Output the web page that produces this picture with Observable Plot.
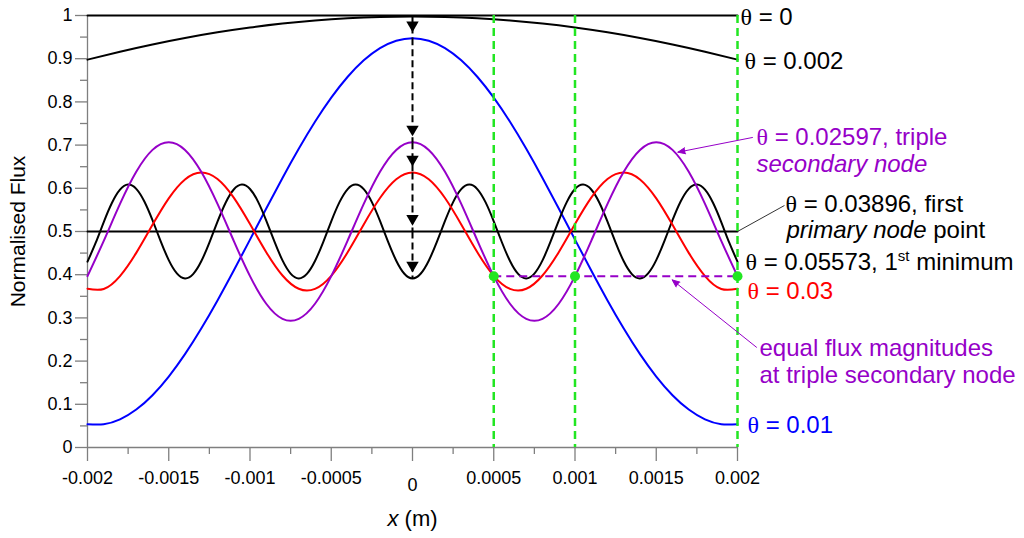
<!DOCTYPE html>
<html>
<head>
<meta charset="utf-8">
<script src="https://cdn.jsdelivr.net/npm/d3@7"></script>
<script src="https://cdn.jsdelivr.net/npm/@observablehq/plot@0.6"></script>
<style>
html, body { margin: 0; padding: 0; background: #fff; }
#chart g[aria-label$="tick label"] text { font-size: 18px !important; }
</style>
</head>
<body>
<div id="chart"></div>
<script>
// ---------- x grids (m) ----------
const xCoarse = [-0.002, -0.0018, -0.0016, -0.0014, -0.0012, -0.001, -0.0008, -0.0006, -0.0004, -0.0002, 0,
  0.0002, 0.0004, 0.0006, 0.0008, 0.001, 0.0012, 0.0014, 0.0016, 0.0018, 0.002];
const xMid = [-0.002, -0.0019, -0.0018, -0.0017, -0.0016, -0.0015, -0.0014, -0.0013, -0.0012, -0.0011,
  -0.001, -0.0009, -0.0008, -0.0007, -0.0006, -0.0005, -0.0004, -0.0003, -0.0002, -0.0001, 0,
  0.0001, 0.0002, 0.0003, 0.0004, 0.0005, 0.0006, 0.0007, 0.0008, 0.0009, 0.001,
  0.0011, 0.0012, 0.0013, 0.0014, 0.0015, 0.0016, 0.0017, 0.0018, 0.0019, 0.002];
const xFine = [-0.002, -0.00195, -0.0019, -0.00185, -0.0018, -0.00175, -0.0017, -0.00165, -0.0016, -0.00155,
  -0.0015, -0.00145, -0.0014, -0.00135, -0.0013, -0.00125, -0.0012, -0.00115, -0.0011, -0.00105,
  -0.001, -0.00095, -0.0009, -0.00085, -0.0008, -0.00075, -0.0007, -0.00065, -0.0006, -0.00055,
  -0.0005, -0.00045, -0.0004, -0.00035, -0.0003, -0.00025, -0.0002, -0.00015, -0.0001, -0.00005, 0,
  0.00005, 0.0001, 0.00015, 0.0002, 0.00025, 0.0003, 0.00035, 0.0004, 0.00045, 0.0005,
  0.00055, 0.0006, 0.00065, 0.0007, 0.00075, 0.0008, 0.00085, 0.0009, 0.00095, 0.001,
  0.00105, 0.0011, 0.00115, 0.0012, 0.00125, 0.0013, 0.00135, 0.0014, 0.00145, 0.0015,
  0.00155, 0.0016, 0.00165, 0.0017, 0.00175, 0.0018, 0.00185, 0.0019, 0.00195, 0.002];
const xEnds = [-0.002, 0.002];

// ---------- normalised flux series ----------
const flux0 = [1, 1];                       // θ = 0
const flux003896 = [0.5, 0.5];              // θ = 0.03896
const flux0002 = [0.8978, 0.9162, 0.9330, 0.9479, 0.9610, 0.9721, 0.9813, 0.9885, 0.9937, 0.9968, 0.9978,
  0.9968, 0.9937, 0.9885, 0.9813, 0.9721, 0.9610, 0.9479, 0.9330, 0.9162, 0.8978];
const flux001 = [0.0540, 0.0538, 0.0651, 0.0878, 0.1211, 0.1643, 0.2161, 0.2754, 0.3405, 0.4097,
  0.4812, 0.5533, 0.6240, 0.6914, 0.7539, 0.8098, 0.8576, 0.8962, 0.9245, 0.9417, 0.9476,
  0.9417, 0.9245, 0.8962, 0.8576, 0.8098, 0.7539, 0.6914, 0.6240, 0.5533, 0.4812,
  0.4097, 0.3405, 0.2754, 0.2161, 0.1643, 0.1211, 0.0878, 0.0651, 0.0538, 0.0540];
const flux002597 = [0.3966, 0.4784, 0.5639, 0.6383, 0.6889, 0.7067, 0.6889, 0.6383, 0.5639, 0.4784,
  0.3966, 0.3327, 0.2978, 0.2978, 0.3327, 0.3966, 0.4784, 0.5639, 0.6383, 0.6889, 0.7067,
  0.6889, 0.6383, 0.5639, 0.4784, 0.3966, 0.3327, 0.2978, 0.2978, 0.3327, 0.3966,
  0.4784, 0.5639, 0.6383, 0.6889, 0.7067, 0.6889, 0.6383, 0.5639, 0.4784, 0.3966];
const flux003 = [0.3676, 0.3670, 0.3969, 0.4505, 0.5154, 0.5768, 0.6206, 0.6367, 0.6214, 0.5783,
  0.5171, 0.4521, 0.3981, 0.3674, 0.3672, 0.3975, 0.4513, 0.5163, 0.5775, 0.6210, 0.6367,
  0.6210, 0.5775, 0.5163, 0.4513, 0.3975, 0.3672, 0.3674, 0.3981, 0.4521, 0.5171,
  0.5783, 0.6214, 0.6367, 0.6206, 0.5768, 0.5154, 0.4505, 0.3969, 0.3670, 0.3676];
const flux005573 = [0.4303, 0.4734, 0.5218, 0.5659, 0.5968, 0.6086, 0.5988, 0.5694, 0.5262, 0.4778,
  0.4338, 0.4030, 0.3914, 0.4014, 0.4310, 0.4743, 0.5227, 0.5666, 0.5972, 0.6086,
  0.5984, 0.5687, 0.5253, 0.4769, 0.4331, 0.4026, 0.3914, 0.4018, 0.4317, 0.4751,
  0.5235, 0.5673, 0.5977, 0.6086, 0.5980, 0.5680, 0.5244, 0.4760, 0.4324, 0.4022, 0.3914,
  0.4022, 0.4324, 0.4760, 0.5244, 0.5680, 0.5980, 0.6086, 0.5977, 0.5673, 0.5235,
  0.4751, 0.4317, 0.4018, 0.3914, 0.4026, 0.4331, 0.4769, 0.5253, 0.5687, 0.5984,
  0.6086, 0.5972, 0.5666, 0.5227, 0.4743, 0.4310, 0.4014, 0.3914, 0.4030, 0.4338,
  0.4778, 0.5262, 0.5694, 0.5988, 0.6086, 0.5968, 0.5659, 0.5218, 0.4734, 0.4303];

// triple secondary node points
const nodeX = [0.0005, 0.001, 0.002];
const nodeFlux = 0.3966;

// central peak values stepped by the dashed arrows at x = 0
const arrowFrom = [1, 0.9476, 0.7067, 0.6367, 0.5];
const arrowTo = [0.9476, 0.7067, 0.6367, 0.5, 0.3914];

// axis ticks
const xTicks = [-0.002, -0.0015, -0.001, -0.0005, 0, 0.0005, 0.001, 0.0015, 0.002];
const xMinorTicks = [-0.00175, -0.00125, -0.00075, -0.00025, 0.00025, 0.00075, 0.00125, 0.00175];
const yTicks = [0, 0.1, 0.2, 0.3, 0.4, 0.5, 0.6, 0.7, 0.8, 0.9, 1];
const yMinorTicks = [0.05, 0.15, 0.25, 0.35, 0.45, 0.55, 0.65, 0.75, 0.85, 0.95];

// ---------- styling ----------
const PURPLE = "#9600c8";
const GREEN = "#22e622";
const AXIS = "#7f7f7f";

// right-hand labels (y in data units, dx in px from x = 0.002)
const labels = [
  {text: "θ = 0", y: 0.995, dx: 3, color: "black"},
  {text: "θ = 0.002", y: 0.8935, dx: 7, color: "black"},
  {text: "θ = 0.02597, triple", y: 0.718, dx: 19, color: PURPLE},
  {text: "secondary node", y: 0.656, dx: 19, color: PURPLE},
  {text: "θ = 0.03896, first", y: 0.564, dx: 48, color: "black"},
  {text: "primary node point", y: 0.502, dx: 49, color: "black"},
  {text: "θ = 0.05573, 1st minimum", y: 0.429, dx: 8, color: "black"},
  {text: "θ = 0.03", y: 0.3604, dx: 10, color: "red"},
  {text: "equal flux magnitudes", y: 0.2296, dx: 22, color: PURPLE},
  {text: "at triple secondary node", y: 0.168, dx: 22, color: PURPLE},
  {text: "θ = 0.01", y: 0.0516, dx: 10, color: "blue"}
];
const purpleLeaders = [
  {x1: 0.002092, y1: 0.7176, x2: 0.001633, y2: 0.6836},
  {x1: 0.002117, y1: 0.232, x2: 0.001598, y2: 0.388}
];
const blackLeader = [{x1: 0.002, y1: 0.5, x2: 0.002289, y2: 0.5602}];

const curve = (xs, ys, stroke) =>
  Plot.line(ys, {x: (d, i) => xs[i], y: d => d, stroke, strokeWidth: 2, curve: "natural"});

const chart = Plot.plot({
  width: 1024,
  height: 538,
  marginLeft: 87,
  marginRight: 287,
  marginTop: 15,
  marginBottom: 91,
  x: {domain: [-0.002, 0.002]},
  y: {domain: [0, 1]},
  style: {fontFamily: "'Liberation Sans', Arial, sans-serif", fontSize: "18px", background: "white", overflow: "visible"},
  marks: [
    Plot.axisX(xMinorTicks, {tickSize: 7, tickFormat: () => "", stroke: AXIS, strokeWidth: 1.3, label: null}),
    Plot.axisX(xTicks, {tickSize: 14, tickPadding: 10, tickFormat: d => d === 0 ? "" : String(d), stroke: AXIS, strokeWidth: 1.3, label: null, fontSize: 18}),
    Plot.axisY(yMinorTicks, {tickSize: 7, tickFormat: () => "", stroke: AXIS, strokeWidth: 1.3, label: null}),
    Plot.axisY(yTicks, {tickSize: 12, tickPadding: 3, tickFormat: d => String(d), stroke: AXIS, strokeWidth: 1.3, label: null, fontSize: 18}),
    Plot.ruleX([-0.002], {stroke: AXIS, strokeWidth: 1.3}),
    Plot.ruleY([0], {stroke: AXIS, strokeWidth: 1.3}),
    Plot.text([0], {x: d => d, frameAnchor: "bottom", dy: 38, lineAnchor: "middle", text: d => String(d), fontSize: 18}),
    Plot.text(["x (m)"], {x: () => 0, frameAnchor: "bottom", dy: 71, lineAnchor: "middle", text: d => d, fontSize: 22}),
    Plot.text(["Normalised Flux"], {frameAnchor: "left", dx: -69, rotate: -90, textAnchor: "middle", lineAnchor: "middle", text: d => d, fontSize: 21}),

    curve(xEnds, flux0, "black"),
    curve(xCoarse, flux0002, "black"),
    curve(xMid, flux001, "blue"),
    curve(xEnds, flux003896, "black"),
    curve(xFine, flux005573, "black"),
    curve(xMid, flux003, "red"),
    curve(xMid, flux002597, PURPLE),

    Plot.ruleX(nodeX, {x: d => d, stroke: GREEN, strokeWidth: 2.5, strokeDasharray: "8,5"}),
    Plot.ruleY([nodeFlux], {y: d => d, x1: nodeX[0], x2: nodeX[2], stroke: PURPLE, strokeWidth: 2, strokeDasharray: "8,5"}),
    Plot.dot(nodeX, {x: d => d, y: () => nodeFlux, r: 5, fill: GREEN}),

    // dashed stepping arrows at x = 0 with filled triangular heads
    Plot.link(arrowFrom, {x1: () => 0, x2: () => 0, y1: d => d, y2: (d, i) => arrowTo[i],
      stroke: "black", strokeWidth: 2, strokeDasharray: "7,4"}),
    Plot.dot(arrowTo, {x: () => 0, y: d => d, symbol: "triangle", rotate: 180, r: 4.6, dy: -13,
      fill: "black", stroke: "white", strokeWidth: 0}),

    Plot.arrow(purpleLeaders, {x1: "x1", y1: "y1", x2: "x2", y2: "y2", stroke: PURPLE, fill: PURPLE,
      strokeWidth: 1, headLength: 12, headAngle: 45}),
    Plot.link(blackLeader, {x1: "x1", y1: "y1", x2: "x2", y2: "y2", stroke: "#333", strokeWidth: 1}),

    Plot.text(labels, {x: () => 0.002, y: "y", text: "text", fill: "color",
      textAnchor: "start", lineAnchor: "middle", fontSize: 24})
  ]
});

// apply per-label horizontal offsets and rich formatting
const SVGNS = "http://www.w3.org/2000/svg";
function setParts(el, parts) {
  el.textContent = "";
  for (const p of parts) {
    const t = document.createElementNS(SVGNS, "tspan");
    t.textContent = p.t;
    for (const [k, v] of Object.entries(p.a || {})) t.setAttribute(k, v);
    el.appendChild(t);
  }
}
const byText = new Map(labels.map(l => [l.text, l]));
chart.querySelectorAll("text").forEach(el => {
  const s = el.textContent;
  const lab = byText.get(s);
  if (lab) {
    const xAttr = +el.getAttribute("x");
    el.setAttribute("x", xAttr + lab.dx);
  }
  if (s.startsWith("θ")) {
    const rest = s.slice(1);
    const parts = [{t: "θ", a: {"font-family": "'Liberation Serif', 'DejaVu Serif', serif"}}];
    if (rest.includes("1st")) {
      const [a, b] = rest.split("1st");
      parts.push({t: a + "1"}, {t: "st", a: {dy: "-9", "font-size": "15"}}, {t: b, a: {dy: "9"}});
    } else parts.push({t: rest});
    setParts(el, parts);
  } else if (s === "secondary node") {
    el.setAttribute("font-style", "italic");
  } else if (s === "primary node point") {
    setParts(el, [{t: "primary node", a: {"font-style": "italic"}}, {t: " point"}]);
  } else if (s === "x (m)") {
    setParts(el, [{t: "x", a: {"font-style": "italic"}}, {t: " (m)"}]);
  }
});

document.getElementById("chart").append(chart);
</script>
</body>
</html>
